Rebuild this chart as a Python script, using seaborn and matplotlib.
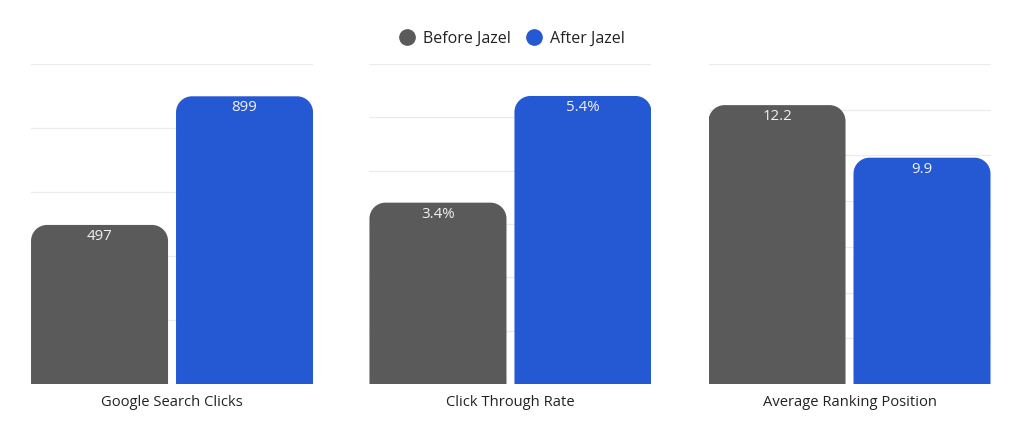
import matplotlib
matplotlib.use("Agg")
import matplotlib.pyplot as plt
from matplotlib.path import Path
from matplotlib.patches import PathPatch
from matplotlib.lines import Line2D
import seaborn as sns
import numpy as np
import pandas as pd

sns.set_theme(style="white")
plt.rcParams['font.family'] = ['Open Sans', 'DejaVu Sans']

# Values
metrics = ["Google Search Clicks", "Click Through Rate", "Average Ranking Position"]
periods = ["Before Jazel", "After Jazel"]
before = [497, 3.4, 12.2]
after = [899, 5.4, 9.9]
labels_before = ["497", "3.4%", "12.2"]
labels_after = ["899", "5.4%", "9.9"]
y_max = [1000, 6, 14]
y_step = [200, 1, 2]

colors = {"Before Jazel": "#5a5a5a", "After Jazel": "#2558d3"}

fig = plt.figure(figsize=(10.24, 4.4), dpi=100)
lefts = [0.0303, 0.3608, 0.6919]


def round_top(ax, patch, radius_px=16):
    x0 = patch.get_x()
    w = patch.get_width()
    h = patch.get_height()
    x1 = x0 + w
    xr = ax.get_xlim()
    yr = ax.get_ylim()
    rx = radius_px * (xr[1] - xr[0]) / ax.bbox.width
    ry = radius_px * (yr[1] - yr[0]) / ax.bbox.height
    k = 0.5523
    verts = [(x0, 0), (x0, h - ry),
             (x0, h - ry + k * ry), (x0 + rx - k * rx, h), (x0 + rx, h),
             (x1 - rx, h),
             (x1 - rx + k * rx, h), (x1, h - ry + k * ry), (x1, h - ry),
             (x1, 0), (x0, 0)]
    codes = [Path.MOVETO, Path.LINETO,
             Path.CURVE4, Path.CURVE4, Path.CURVE4,
             Path.LINETO,
             Path.CURVE4, Path.CURVE4, Path.CURVE4,
             Path.LINETO, Path.CLOSEPOLY]
    pp = PathPatch(Path(verts, codes), facecolor=patch.get_facecolor(),
                   edgecolor="none", zorder=3)
    ax.add_patch(pp)
    patch.set_visible(False)


for i, metric in enumerate(metrics):
    ax = fig.add_axes([lefts[i], 0.1273, 0.2754, 0.7273])
    df = pd.DataFrame({"period": periods, "value": [before[i], after[i]]})
    sns.barplot(data=df, x="period", y="value", hue="period", palette=colors,
                width=0.945, legend=False, ax=ax, saturation=1)
    ax.set_xlim(-0.4725, 1.4725)
    ax.set_ylim(0, y_max[i])
    ax.set_yticks(np.arange(0, y_max[i] + y_step[i] / 2, y_step[i]))
    ax.set_yticklabels([])
    ax.tick_params(left=False, bottom=False)
    ax.yaxis.grid(True, color="#ebebeb", linewidth=0.9)
    ax.set_axisbelow(True)
    for s in ax.spines.values():
        s.set_visible(False)
    ax.set_xticks([])
    ax.set_ylabel("")
    ax.set_xlabel(metric, fontsize=10.6, color="#222222", labelpad=8)

    texts = [labels_before[i], labels_after[i]]
    for patch, txt in zip(list(ax.patches), texts):
        round_top(ax, patch)
        ax.annotate(txt, xy=(patch.get_x() + patch.get_width() / 2, patch.get_height()),
                    xytext=(0, -3), textcoords="offset points", ha="center", va="top",
                    color="#f2f2f2", fontsize=10.8, zorder=4)

handles = [Line2D([], [], marker="o", linestyle="none", markersize=11,
                  markerfacecolor=colors[p], markeredgecolor=colors[p]) for p in periods]
fig.legend(handles, periods, loc="center", bbox_to_anchor=(0.5, 0.912), ncol=2,
           frameon=False, fontsize=11.5, handlelength=1.0, handletextpad=0.45,
           columnspacing=1.0, labelcolor="#222222")

fig.savefig("out.png", dpi=100)
